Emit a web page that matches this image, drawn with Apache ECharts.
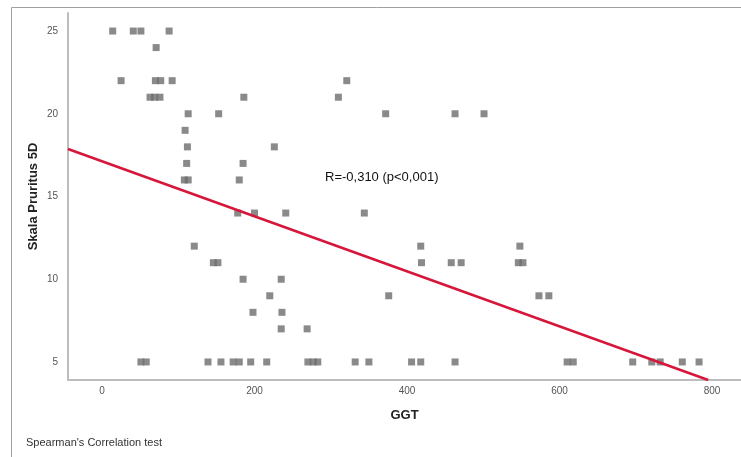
<!DOCTYPE html>
<html>
<head>
<meta charset="utf-8">
<script src="https://cdn.jsdelivr.net/npm/echarts@6/dist/echarts.min.js"></script>
<style>
  html, body { margin: 0; padding: 0; background: #fff; }
  #chart { width: 741px; height: 457px; }
</style>
</head>
<body>
<div id="chart"></div>
<script>
// GGT values (x) and Pruritus 5D score (y) for each patient
var ggt = [
  14, 41, 51, 88,
  71,
  25, 70, 77, 92, 321,
  63, 69, 76, 186, 310,
  113, 153, 372, 463, 501,
  109,
  112, 226,
  111, 185,
  108, 113, 180,
  178, 200, 241, 344,
  121, 418, 548,
  146, 152, 419, 458, 471, 546, 552,
  185, 235,
  220, 376, 573, 586,
  198, 236,
  235, 269,
  51, 58, 139, 156, 172, 180, 195, 216, 270, 277, 283, 332, 350,
  406, 418, 463, 610, 618, 696, 721, 732, 761, 783
];
var pruritus = [
  25, 25, 25, 25,
  24,
  22, 22, 22, 22, 22,
  21, 21, 21, 21, 21,
  20, 20, 20, 20, 20,
  19,
  18, 18,
  17, 17,
  16, 16, 16,
  14, 14, 14, 14,
  12, 12, 12,
  11, 11, 11, 11, 11, 11, 11,
  10, 10,
  9, 9, 9, 9,
  8, 8,
  7, 7,
  5, 5, 5, 5, 5, 5, 5, 5, 5, 5, 5, 5, 5,
  5, 5, 5, 5, 5, 5, 5, 5, 5, 5
];

// fitted line end points
var fitX = [-44.6, 795];
var fitY = [17.87, 3.91];

// tick labels
var xTicks = [0, 200, 400, 600, 800];
var yTicks = [5, 10, 15, 20, 25];

var points = [];
for (var i = 0; i < ggt.length; i++) {
  points.push([ggt[i], pruritus[i]]);
}
var fitLine = [];
for (var j = 0; j < fitX.length; j++) {
  fitLine.push([fitX[j], fitY[j]]);
}

var chart = echarts.init(document.getElementById('chart'));

var option = {
  backgroundColor: '#fff',
  animation: false,
  textStyle: { fontFamily: 'Liberation Sans, Arial, sans-serif' },
  grid: { left: 68, right: 0, top: 13, bottom: 77 },
  xAxis: {
    type: 'value',
    min: -44.6,
    max: 838,
    name: 'GGT',
    nameLocation: 'middle',
    nameGap: 29,
    nameMoveOverlap: false,
    nameTextStyle: { fontSize: 13, fontWeight: 'bold', color: '#222' },
    axisLine: { show: true, onZero: false, lineStyle: { color: '#bdbdbd', width: 2 } },
    axisTick: { show: false },
    splitLine: { show: false },
    axisLabel: { customValues: xTicks, fontSize: 10, color: '#555', margin: 6 }
  },
  yAxis: {
    type: 'value',
    min: 3.91,
    max: 26.09,
    name: 'Skala Pruritus 5D',
    nameLocation: 'middle',
    nameGap: 28,
    nameMoveOverlap: false,
    nameTextStyle: { fontSize: 13, fontWeight: 'bold', color: '#222' },
    axisLine: { show: true, onZero: false, lineStyle: { color: '#bdbdbd', width: 2 } },
    axisTick: { show: false },
    splitLine: { show: false },
    axisLabel: { customValues: yTicks, fontSize: 10, color: '#555', margin: 10 }
  },
  series: [{
    type: 'scatter',
    data: points,
    symbol: 'rect',
    symbolSize: 7,
    itemStyle: { color: '#6d6d6d' }
  }, {
    type: 'line',
    data: fitLine,
    symbol: 'none',
    lineStyle: { color: '#d6163a', width: 2.5 },
    z: 3
  }],
  graphic: [{
    type: 'rect',
    left: 9,
    top: 5,
    shape: { width: 800, height: 500 },
    style: { fill: 'none', stroke: '#a0a0a0', lineWidth: 1 },
    silent: true
  }, {
    type: 'text',
    left: 325,
    top: 171,
    style: { text: 'R=-0,310 (p<0,001)', fill: '#111', font: '13px Liberation Sans, Arial, sans-serif' }
  }, {
    type: 'text',
    left: 26,
    top: 437,
    style: { text: "Spearman's Correlation test", fill: '#333', font: '11px Liberation Sans, Arial, sans-serif' }
  }]
};

chart.setOption(option);
</script>
</body>
</html>
